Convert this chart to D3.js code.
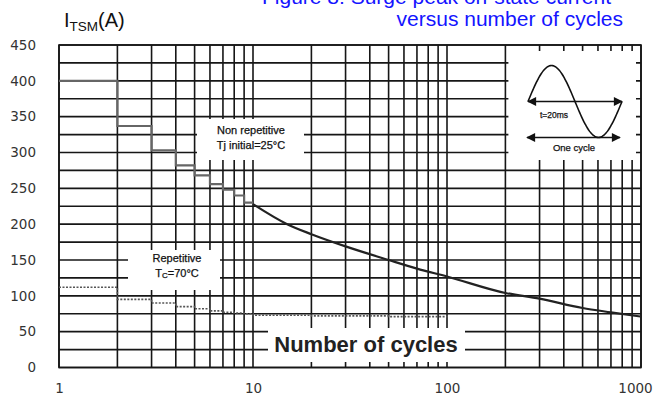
<!DOCTYPE html>
<html>
<head>
<meta charset="utf-8">
<script src="https://cdn.jsdelivr.net/npm/d3@7"></script>
<style>
  html, body { margin: 0; padding: 0; background: #fff; }
  svg { display: block; }
</style>
</head>
<body>
<svg id="chart" width="655" height="401"></svg>
<script>
// Non-repetitive surge: one value per whole cycle count (1..9), then a smooth decay
const stepCycles = [1, 2, 3, 4, 5, 6, 7, 8, 9, 10];
const nonRepSteps = [400, 337, 303, 282, 268, 256, 248, 240, 230, 230];
const decayCycles = [10, 15, 20, 30, 50, 70, 100, 200, 300, 500, 700, 1000];
const decayValues = [228, 200, 186, 169, 150, 138, 127, 104, 96, 83, 77, 71];

// Repetitive surge (Tc = 70°C)
const repCycles = [1, 2, 3, 4, 5, 6, 7, 8, 9, 10, 20, 50, 100];
const repValues = [112, 95, 90, 85, 82, 79, 77, 76, 75, 73, 72, 71, 70];

// Axis tick labels and grid lines
const yTicks = [0, 50, 100, 150, 200, 250, 300, 350, 400, 450];
const yGrid = d3.range(0, 451, 25);
const xTicks = [1, 10, 100, 1000];
const xGrid = [1,2,3,4,5,6,7,8,9,10,20,30,40,50,60,70,80,90,100,200,300,400,500,600,700,800,900,1000];

const svg = d3.select("#chart");
const L = 59, R = 641, T = 45, B = 367.5;

const x = d3.scaleLog().domain([1, 1000]).range([L, R]);
const y = d3.scaleLinear().domain([0, 450]).range([B, T]);

const gridColor = "#161616";

// grid
const grid = svg.append("g");
grid.selectAll("line.v").data(xGrid).join("line")
  .attr("x1", d => x(d)).attr("x2", d => x(d))
  .attr("y1", T).attr("y2", B)
  .attr("stroke", gridColor).attr("stroke-width", 1.6);
grid.selectAll("line.h").data(yGrid).join("line")
  .attr("x1", L).attr("x2", R)
  .attr("y1", d => y(d)).attr("y2", d => y(d))
  .attr("stroke", gridColor).attr("stroke-width", 1.6);

// white panels for the annotations (they interrupt the grid)
const panels = [
  [x(200) + 3, T + 6, R - 5 - (x(200) + 3), 160 - (T + 6)],   // waveform inset
  [197, 119, 107, 41],                                            // non repetitive
  [128, 250, 92, 40],                                             // repetitive
  [268, 328, 197, 34]                                             // axis title
];
svg.append("g").selectAll("rect").data(panels).join("rect")
  .attr("x", d => d[0]).attr("y", d => d[1])
  .attr("width", d => d[2]).attr("height", d => d[3])
  .attr("fill", "#fff");

// plot frame
svg.append("rect").attr("x", L).attr("y", T).attr("width", R - L).attr("height", B - T)
  .attr("fill", "none").attr("stroke", gridColor).attr("stroke-width", 1.6);

// non repetitive steps
const stepLine = d3.line().x(d => x(d[0])).y(d => y(d[1])).curve(d3.curveStepAfter);
svg.append("path")
  .datum(stepCycles.map((c, i) => [c, nonRepSteps[i]]))
  .attr("d", stepLine)
  .attr("fill", "none").attr("stroke", "#666").attr("stroke-width", 2.2);

// non repetitive decay
const smooth = d3.line().x(d => x(d[0])).y(d => y(d[1])).curve(d3.curveMonotoneX);
svg.append("path")
  .datum(decayCycles.map((c, i) => [c, decayValues[i]]))
  .attr("d", smooth)
  .attr("fill", "none").attr("stroke", "#222").attr("stroke-width", 2.2);

// repetitive (dotted)
svg.append("path")
  .datum(repCycles.map((c, i) => [c, repValues[i]]))
  .attr("d", d3.line().x(d => x(d[0])).y(d => y(d[1])).curve(d3.curveStepAfter))
  .attr("fill", "none").attr("stroke", "#555").attr("stroke-width", 1.6)
  .attr("stroke-dasharray", "2,1.5");

// axes
const tickFont = "'DejaVu Sans', sans-serif";
const yAxis = svg.append("g").attr("transform", `translate(${L},0)`)
  .call(d3.axisLeft(y).tickValues(yTicks).tickSize(0).tickPadding(23));
yAxis.select(".domain").remove();
yAxis.selectAll("text").attr("font-family", tickFont).attr("font-size", 13.5)
  .attr("fill", "#333");

const xAxis = svg.append("g").attr("transform", `translate(0,${B})`)
  .call(d3.axisBottom(x).tickValues(xTicks).tickFormat(d3.format("d")).tickSize(0).tickPadding(16));
xAxis.select(".domain").remove();
xAxis.selectAll("text").attr("font-family", tickFont).attr("font-size", 13.5)
  .attr("fill", "#333")
  .attr("dx", d => d === 1000 ? -6 : 0);

// axis title inside the plot
svg.append("text").attr("x", 366).attr("y", 352)
  .attr("text-anchor", "middle")
  .attr("font-family", "'Liberation Sans', Arial, sans-serif")
  .attr("font-weight", "bold").attr("font-size", 22).attr("fill", "#222")
  .text("Number of cycles");

// curve annotations
const noteFont = "'Liberation Sans', Arial, sans-serif";
function note(txt, cx, cy, size) {
  return svg.append("text").attr("x", cx).attr("y", cy)
    .attr("text-anchor", "middle").attr("dominant-baseline", "central")
    .attr("font-family", noteFont).attr("font-size", size)
    .attr("fill", "#111").attr("stroke", "#111").attr("stroke-width", 0.25)
    .text(txt);
}
note("Non repetitive", 251, 130, 11);
const tj = note("", 251, 145, 11);
tj.append("tspan").text("Tj initial=25°C");
note("Repetitive", 177, 258, 11);
const tc = note("", 177, 273, 11);
tc.append("tspan").text("T");
tc.append("tspan").attr("font-size", 8).attr("dy", 2).text("C");
tc.append("tspan").attr("dy", -2).text("=70°C");

// waveform inset: one sine period with its duration arrows
const w0 = 528, w1 = 622, wMid = 101.5, wAmp = 36;
const sine = d3.range(0, 1.0001, 0.01).map(t => [w0 + t * (w1 - w0), wMid - wAmp * Math.sin(2 * Math.PI * t)]);
svg.append("path").datum(sine)
  .attr("d", d3.line().curve(d3.curveBasis))
  .attr("fill", "none").attr("stroke", "#111").attr("stroke-width", 1.6);

const defs = svg.append("defs");
defs.append("marker").attr("id", "ah").attr("viewBox", "0 0 10 10")
  .attr("refX", 9).attr("refY", 5).attr("markerWidth", 12).attr("markerHeight", 9)
  .attr("orient", "auto-start-reverse").attr("markerUnits", "userSpaceOnUse")
  .append("path").attr("d", "M0,0 L10,5 L0,10 Z").attr("fill", "#111");

[[w0, w1, wMid], [527, 620, 137.5]].forEach(a => {
  svg.append("line").attr("x1", a[0]).attr("x2", a[1]).attr("y1", a[2]).attr("y2", a[2])
    .attr("stroke", "#111").attr("stroke-width", 1.5)
    .attr("marker-start", "url(#ah)").attr("marker-end", "url(#ah)");
});
note("t=20ms", 554, 115, 8.5);
note("One cycle", 574, 147, 9.5);

// axis label and figure caption
const yl = svg.append("text").attr("x", 64).attr("y", 27)
  .attr("font-family", "'Liberation Sans', Arial, sans-serif").attr("font-size", 20).attr("fill", "#111");
yl.append("tspan").text("I");
yl.append("tspan").attr("font-size", 13.5).attr("dy", 4).text("TSM");
yl.append("tspan").attr("dy", -4).text("(A)");

const cap = svg.append("g").attr("font-family", "'Liberation Sans', Arial, sans-serif")
  .attr("font-size", 21).attr("fill", "#1414ff").attr("text-anchor", "end");
cap.append("text").attr("x", 611).attr("y", 4).text("Figure 8: Surge peak on-state current");
cap.append("text").attr("x", 623).attr("y", 26).text("versus number of cycles");
</script>
</body>
</html>
